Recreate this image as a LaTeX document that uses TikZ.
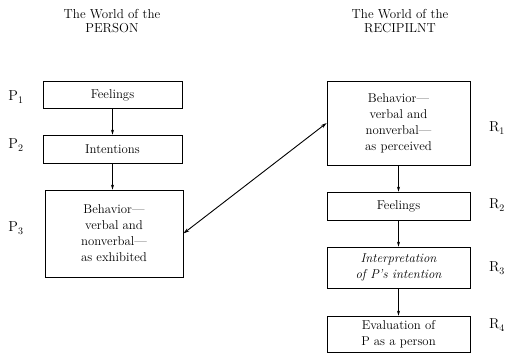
\documentclass[tikz,border=0pt]{standalone}
\usetikzlibrary{arrows.meta}
\begin{document}
\begin{tikzpicture}[x=1pt,y=-1pt,
  box/.style={draw,line width=0.7pt,inner sep=0pt,align=center,font=\fontsize{12.8}{16}\selectfont},
  ttl/.style={align=center,inner sep=0pt,font=\fontsize{13}{13.5}\selectfont},
  lbl/.style={inner sep=0pt,font=\fontsize{14}{16}\selectfont},
  conn/.style={line width=0.7pt,-{Stealth[length=5pt,width=3pt]}},
  conn2/.style={line width=0.9pt,{Stealth[length=6pt,width=3.5pt]}-{Stealth[length=6pt,width=3.5pt]}}]
\useasboundingbox (0,0) rectangle (511,354);
\node[ttl] (t1) at (112,21) {The World of the\\PERSON};
\node[ttl] (t2) at (400,21) {The World of the\\RECIPILNT};
\node[box,minimum width=139,minimum height=27] (p1) at (112.5,95) {Feelings};
\node[box,minimum width=139,minimum height=28] (p2) at (112.5,149) {Intentions};
\node[box,minimum width=138,minimum height=87] (p3) at (114,233.5) {Behavior---\\verbal and\\nonverbal---\\as exhibited};
\node[box,minimum width=143,minimum height=84] (r1) at (398.5,123) {Behavior---\\verbal and\\nonverbal---\\as perceived};
\node[box,minimum width=143,minimum height=28] (r2) at (398.5,206) {Feelings};
\node[box,minimum width=143,minimum height=41,font=\fontsize{12.8}{16}\selectfont\itshape] (r3) at (398.5,267.5) {Interpretation\\of P's intention};
\node[box,minimum width=143,minimum height=36] (r4) at (398.5,334) {Evaluation of\\P as a person};
\node[lbl] (lp1) at (16,97) {$\mathrm{P}_1$};
\node[lbl] (lp2) at (16,145) {$\mathrm{P}_2$};
\node[lbl] (lp3) at (16,228) {$\mathrm{P}_3$};
\node[lbl] (lr1) at (497,128) {$\mathrm{R}_1$};
\node[lbl] (lr2) at (497,205) {$\mathrm{R}_2$};
\node[lbl] (lr3) at (497,268) {$\mathrm{R}_3$};
\node[lbl] (lr4) at (497,325) {$\mathrm{R}_4$};
\draw[conn] (p1) -- (p2);
\draw[conn] (p2.south) -- (p2.south |- p3.north);
\draw[conn] (r1) -- (r2);
\draw[conn] (r2) -- (r3);
\draw[conn] (r3) -- (r4);
\draw[conn2] (p3.east) -- (r1.west);
\end{tikzpicture}
\end{document}
